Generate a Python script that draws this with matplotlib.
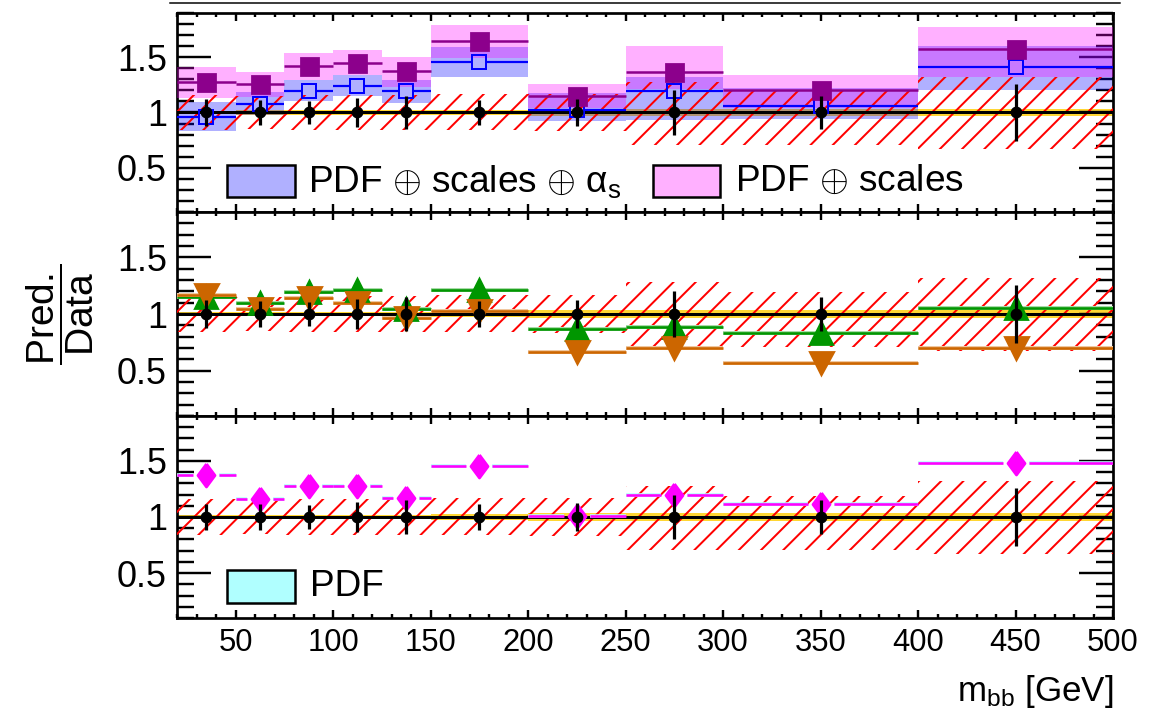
import numpy as np
import matplotlib
matplotlib.use("Agg")
import matplotlib.pyplot as plt
import matplotlib.patheffects as pe
from matplotlib.lines import Line2D
from matplotlib.patches import Rectangle
from matplotlib.ticker import MultipleLocator, FixedLocator, FixedFormatter

# ---------------------------------------------------------------- data
bin_edges = [20, 50, 75, 100, 125, 150, 200, 250, 300, 400, 500]

data_ratio = [1.0, 1.0, 1.0, 1.0, 1.0, 1.0, 1.0, 1.0, 1.0, 1.0]
data_err = [0.12, 0.115, 0.105, 0.13, 0.15, 0.115, 0.125, 0.20, 0.15, 0.26]
data_stat_band = [0.015, 0.02, 0.02, 0.02, 0.02, 0.025, 0.035, 0.035, 0.035, 0.035]
syst_up = [0.16, 0.15, 0.16, 0.16, 0.16, 0.17, 0.17, 0.28, 0.19, 0.32]
syst_dn = [0.16, 0.15, 0.16, 0.16, 0.16, 0.16, 0.17, 0.29, 0.29, 0.33]

# top panel: prediction with PDF + scales + alpha_s band, and with PDF + scales band
pred_as = [0.96, 1.077, 1.196, 1.244, 1.19, 1.458, 1.02, 1.19, 1.056, 1.408]
pred_as_lo = [0.833, 0.98, 1.10, 1.146, 1.087, 1.324, 0.922, 0.93, 0.938, 1.205]
pred_as_hi = [1.095, 1.185, 1.295, 1.34, 1.295, 1.592, 1.176, 1.32, 1.22, 1.60]
pred_sc = [1.28, 1.256, 1.42, 1.45, 1.378, 1.643, 1.152, 1.369, 1.199, 1.578]
pred_sc_lo = [1.13, 1.137, 1.295, 1.34, 1.235, 1.494, 1.04, 1.21, 1.04, 1.324]
pred_sc_hi = [1.41, 1.363, 1.538, 1.568, 1.503, 1.795, 1.256, 1.604, 1.339, 1.77]

# middle panel
ratio_green = [1.152, 1.094, 1.191, 1.212, 1.044, 1.212, 0.865, 0.888, 0.83, 1.05]
ratio_orange = [1.167, 1.044, 1.141, 1.097, 0.962, 1.03, 0.662, 0.697, 0.565, 0.697]

# bottom panel
ratio_magenta = [1.374, 1.16, 1.279, 1.276, 1.172, 1.457, 1.009, 1.196, 1.113, 1.478]

x_tick_values = [50, 100, 150, 200, 250, 300, 350, 400, 450, 500]
x_tick_labels = ["50", "100", "150", "200", "250", "300", "350", "400", "450", "500"]
y_tick_values = [0.5, 1.0, 1.5]
y_tick_labels = ["0.5", "1", "1.5"]

legend_top = [r"PDF $\oplus$ scales $\oplus$ $\mathrm{\alpha}_{\mathrm{s}}$",
              r"PDF $\oplus$ scales"]
legend_bottom = ["PDF"]

# ---------------------------------------------------------------- style
DPI = 200
W, H = 1169, 716


def pt(px):
    """pixels -> points at the output resolution"""
    return px * 72.0 / DPI


FONT = "Liberation Sans"
plt.rcParams.update({
    "font.family": [FONT, "DejaVu Sans"],
    "mathtext.fontset": "custom",
    "mathtext.rm": FONT,
    "mathtext.it": FONT + ":italic",
    "mathtext.bf": FONT + ":bold",
    "hatch.linewidth": pt(2.0),
})

C_BLUE = "#0000ff"
C_PURPLE = "#8c008c"
C_GREEN = "#009600"
C_ORANGE = "#cc6600"
C_MAGENTA = "#ff00ff"
C_YELLOW = "#ffd633"

edges = np.array(bin_edges, dtype=float)
lo, hi = edges[:-1], edges[1:]
width = hi - lo
centers = 0.5 * (lo + hi)
XMIN, XMAX = edges[0], edges[-1]
YMIN, YMAX = 0.1, 1.9

fig = plt.figure(figsize=(W / DPI, H / DPI), dpi=DPI)


def rect(x0, x1, y0, y1):
    return [x0 / W, 1 - y1 / H, (x1 - x0) / W, (y1 - y0) / H]


ax_top = fig.add_axes(rect(177, 1113, 13, 212))
ax_mid = fig.add_axes(rect(177, 1113, 212, 416))
ax_bot = fig.add_axes(rect(177, 1113, 416, 618))
axes = [ax_top, ax_mid, ax_bot]

px_per_gev = (1113 - 177) / (XMAX - XMIN)


def gapped_hlines(ax, y, gap_px, **kw):
    gap = gap_px / px_per_gev
    segs_x0 = np.concatenate([lo, centers + gap])
    segs_x1 = np.concatenate([centers - gap, hi])
    yy = np.concatenate([y, y])
    return ax.hlines(yy, segs_x0, segs_x1, **kw)


def draw_data(ax):
    ax.bar(lo, 2 * np.array(data_stat_band), bottom=1 - np.array(data_stat_band),
           width=width, align="edge", color=C_YELLOW, linewidth=0, zorder=1)
    ax.bar(lo, np.array(syst_up) + np.array(syst_dn), bottom=1 - np.array(syst_dn),
           width=width, align="edge", facecolor="none", edgecolor="red",
           hatch="///", linewidth=0, zorder=4)
    ax.axhline(1.0, color="black", lw=pt(3), zorder=5)
    ax.errorbar(centers, data_ratio, yerr=data_err, fmt="o", color="black",
                ms=pt(9), elinewidth=pt(3.2), capsize=0, zorder=10)


# ---------------------------------------------------------------- top panel
ax_top.bar(lo, np.array(pred_as_hi) - np.array(pred_as_lo), bottom=pred_as_lo,
           width=width, align="edge", color=(0, 0, 1), alpha=0.31, linewidth=0, zorder=2)
ax_top.bar(lo, np.array(pred_sc_hi) - np.array(pred_sc_lo), bottom=pred_sc_lo,
           width=width, align="edge", color=(1, 0, 1), alpha=0.31, linewidth=0, zorder=3)
draw_data(ax_top)
gapped_hlines(ax_top, pred_as, 7, colors=C_BLUE, lw=pt(2.2), zorder=6)
ax_top.plot(centers, pred_as, ls="none", marker="s", ms=pt(14), mfc="none",
            mec=C_BLUE, mew=pt(2), zorder=7)
ax_top.hlines(pred_sc, lo, hi, colors=C_PURPLE, lw=pt(2.5), zorder=6)
ax_top.plot(centers, pred_sc, ls="none", marker="s", ms=pt(17), color=C_PURPLE, zorder=7)

# ---------------------------------------------------------------- middle panel
draw_data(ax_mid)
ax_mid.hlines(ratio_green, lo, hi, colors=C_GREEN, lw=pt(2.6), zorder=6,
              path_effects=[pe.Stroke(linewidth=pt(4), foreground="#a8dca8"), pe.Normal()])
ax_mid.plot(centers, ratio_green, ls="none", marker="^", ms=pt(23), color=C_GREEN, zorder=7)
ax_mid.hlines(ratio_orange, lo, hi, colors=C_ORANGE, lw=pt(2.6), zorder=6,
              path_effects=[pe.Stroke(linewidth=pt(4), foreground="#f0c8a0"), pe.Normal()])
ax_mid.plot(centers, ratio_orange, ls="none", marker="v", ms=pt(23), color=C_ORANGE, zorder=8)

# ---------------------------------------------------------------- bottom panel
draw_data(ax_bot)
gapped_hlines(ax_bot, ratio_magenta, 13, colors=C_MAGENTA, lw=pt(2.6), zorder=6,
              path_effects=[pe.Stroke(linewidth=pt(3.6), foreground="#b8ffff"), pe.Normal()])
diamond = [(0, 1), (0.74, 0), (0, -1), (-0.74, 0), (0, 1)]
ax_bot.plot(centers, ratio_magenta, ls="none", marker=diamond, ms=pt(23),
            color=C_MAGENTA, zorder=7)

# ---------------------------------------------------------------- axes styling
for ax in axes:
    ax.set_xlim(XMIN, XMAX)
    ax.set_ylim(YMIN, YMAX)
    ax.xaxis.set_major_locator(FixedLocator(x_tick_values))
    ax.xaxis.set_minor_locator(MultipleLocator(10))
    ax.yaxis.set_major_locator(FixedLocator(y_tick_values))
    ax.yaxis.set_major_formatter(FixedFormatter(y_tick_labels))
    ax.yaxis.set_minor_locator(MultipleLocator(0.1))
    ax.tick_params(which="both", direction="in", top=True, right=True,
                   width=pt(2.4), color="black")
    ax.tick_params(axis="y", which="major", length=pt(34), pad=pt(10),
                   labelsize=pt(36))
    ax.tick_params(axis="y", which="minor", length=pt(17))
    ax.tick_params(axis="x", which="major", length=pt(8))
    ax.tick_params(axis="x", which="minor", length=pt(4))
    for s in ax.spines.values():
        s.set_linewidth(pt(2.7))
    if ax is not ax_bot:
        ax.tick_params(axis="x", labelbottom=False)

ax_bot.xaxis.set_major_formatter(FixedFormatter(x_tick_labels))
ax_bot.tick_params(axis="x", which="major", labelsize=pt(31), pad=pt(10))

ax_bot.set_xlabel(r"$\mathrm{m}_{\mathrm{bb}}$ [GeV]", fontsize=pt(35), ha="right", va="top")
ax_bot.xaxis.set_label_coords(1.0, -0.27)

ax_mid.set_ylabel(r"$\dfrac{\mathrm{Pred.}}{\mathrm{Data}}$", fontsize=pt(39), va="center")
ax_mid.yaxis.set_label_coords(-0.125, 0.5)

# ---------------------------------------------------------------- legends
def legend_entry(ax, x0, x1, y0, y1, color, label, tx, size):
    ax.add_patch(Rectangle((x0, y0), x1 - x0, y1 - y0, transform=ax.transAxes,
                           facecolor=color, edgecolor="black", lw=pt(2.5),
                           zorder=20, clip_on=False))
    ax.text(tx, 0.5 * (y0 + y1), label, transform=ax.transAxes, fontsize=pt(size),
            ha="left", va="center", zorder=20)


legend_entry(ax_top, 0.0534, 0.126, 0.075, 0.236, "#b0b0ff", legend_top[0], 0.140, 37)
legend_entry(ax_top, 0.5085, 0.580, 0.075, 0.236, "#ffb0ff", legend_top[1], 0.596, 37)
legend_entry(ax_bot, 0.0534, 0.126, 0.074, 0.238, "#b0ffff", legend_bottom[0], 0.142, 37)

# frame edge of the pad above
fig.add_artist(Line2D([170 / W, 1120 / W], [1 - 3 / H, 1 - 3 / H],
                      transform=fig.transFigure, color="black", lw=pt(1.5)))

fig.savefig("out.png", dpi=DPI)
